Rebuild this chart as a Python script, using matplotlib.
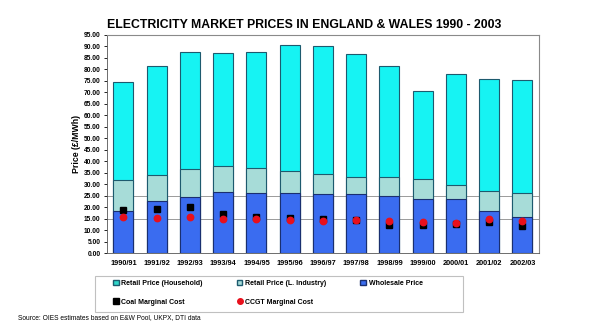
import numpy as np
import matplotlib.pyplot as plt
from matplotlib.lines import Line2D
from matplotlib.patches import Patch, Rectangle

plt.rcParams['font.family'] = ['Liberation Sans', 'DejaVu Sans']

# Data (GBP/MWh)
years = ['1990/91', '1991/92', '1992/93', '1993/94', '1994/95', '1995/96', '1996/97',
         '1997/98', '1998/99', '1999/00', '2000/01', '2001/02', '2002/03']
retail_household = [74.4, 81.6, 87.4, 87.1, 87.4, 90.8, 90.1, 86.6, 81.3, 70.7, 78.0, 75.8, 75.4]
retail_industry = [31.8, 34.0, 36.9, 38.0, 37.3, 35.9, 34.4, 33.0, 33.0, 32.5, 29.9, 27.3, 26.4]
wholesale = [18.5, 22.7, 24.3, 26.7, 26.4, 26.1, 25.7, 25.7, 25.0, 23.5, 23.8, 18.3, 15.8]
coal_cost = [19.0, 19.4, 20.2, 17.0, 16.0, 15.4, 15.1, 14.5, 12.2, 12.2, 12.6, 13.8, 11.9]
ccgt_cost = [15.8, 15.4, 16.0, 14.8, 14.8, 14.5, 14.1, 14.5, 14.2, 13.5, 13.4, 15.1, 14.1]

C_HOUSE = '#16f3f3'
C_IND = '#a7dcd8'
C_WHOLE = '#3a6cf0'
EDGE = '#1d5a6e'
RED = '#e8101c'

fig = plt.figure(figsize=(6.07, 3.30), dpi=100)
ax = fig.add_axes([0.176, 0.2324, 0.712, 0.6616])

x = np.arange(len(years))
w = 0.6

# reference lines behind the bars
for y in (15, 25):
    ax.axhline(y, color='#9a9a9a', lw=0.7, zorder=0)

# overlapping bars, each drawn from zero
ax.bar(x, retail_household, w, color=C_HOUSE, edgecolor=EDGE, lw=0.8, zorder=2)
ax.bar(x, retail_industry, w, color=C_IND, edgecolor=EDGE, lw=0.8, zorder=3)
ax.bar(x, wholesale, w, color=C_WHOLE, edgecolor='#1a2f70', lw=0.8, zorder=4)

ax.plot(x, coal_cost, ls='none', marker='s', ms=4.6, color='black', zorder=5)
ax.plot(x, ccgt_cost, ls='none', marker='o', ms=4.6, color=RED, zorder=6)

ax.set_xlim(-0.5, len(years) - 0.5)
ax.set_ylim(0, 95)
ticks = np.arange(0, 96, 5)
ax.set_yticks(ticks)
ax.set_yticklabels([f'{v:.2f}' for v in ticks], fontsize=4.8, fontweight='bold')
ax.set_xticks(x)
ax.set_xticklabels(years, fontsize=5.3, fontweight='bold')
ax.tick_params(axis='y', length=2.5, width=0.6, pad=2)
ax.tick_params(axis='x', length=0, pad=5)
ax.set_ylabel('Price (£/MWh)', fontsize=6.3, fontweight='bold', labelpad=2)

for side in ('top', 'right'):
    ax.spines[side].set_color('#8a8a8a')
    ax.spines[side].set_linewidth(0.8)
for side in ('left', 'bottom'):
    ax.spines[side].set_color('#555555')
    ax.spines[side].set_linewidth(0.6)

fig.text(0.501, 0.924, 'ELECTRICITY MARKET PRICES IN ENGLAND & WALES 1990 - 2003',
         ha='center', va='center', fontsize=8.8, fontweight='bold')

# legend: entries ordered column by column so rows read like the original
handles = [
    Patch(facecolor='#2fd6c8', edgecolor=EDGE, label='Retail Price (Household)'),
    Line2D([], [], ls='none', marker='s', ms=4, color='black', label='Coal Marginal Cost'),
    Patch(facecolor=C_IND, edgecolor=EDGE, label='Retail Price (L. Industry)'),
    Line2D([], [], ls='none', marker='o', ms=4, color=RED, label='CCGT Marginal Cost'),
    Patch(facecolor=C_WHOLE, edgecolor='#1a2f70', label='Wholesale Price'),
]
leg = fig.legend(handles=handles, ncol=3, loc='upper left',
                 bbox_to_anchor=(113 / 607, 1 - 280 / 330), borderaxespad=0,
                 prop={'weight': 'bold', 'size': 5}, frameon=False,
                 handlelength=0.8, handleheight=0.8, handletextpad=0.4,
                 columnspacing=4.9, labelspacing=1.7, borderpad=0)
fig.patches.append(Rectangle((95 / 607, 1 - 312 / 330), 368 / 607, 36 / 330,
                             transform=fig.transFigure, fill=False,
                             edgecolor='#c0c0c0', lw=0.8))

fig.text(18 / 607, 1 - 318 / 330, 'Source: OIES estimates based on E&W Pool, UKPX, DTI data',
         fontsize=4.8, ha='left', va='center')

fig.savefig('out.png', dpi=100)
